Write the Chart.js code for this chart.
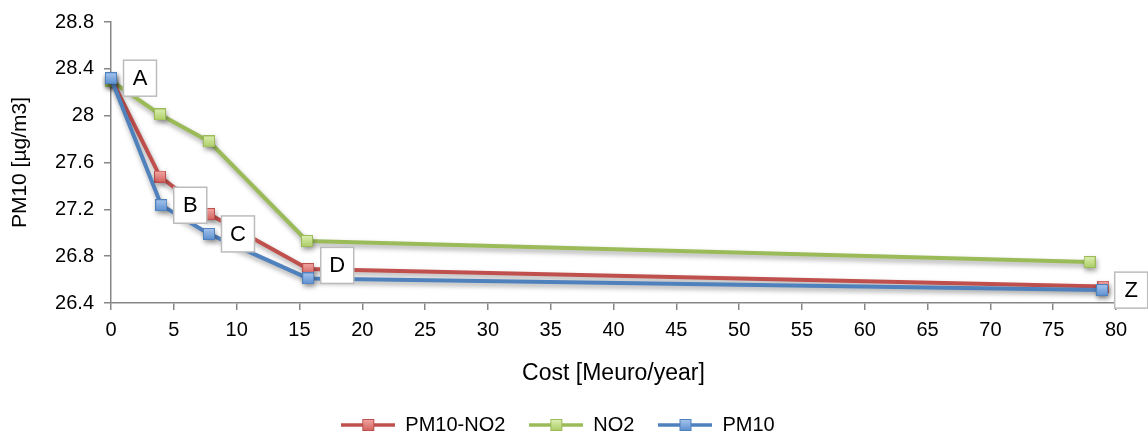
<!DOCTYPE html>
<html>
<head>
<meta charset="utf-8">
<script src="https://cdn.jsdelivr.net/npm/chart.js@4.4.1/dist/chart.umd.min.js"></script>
<style>
  html, body { margin: 0; padding: 0; background: #fff; }
  #wrap { width: 1148px; height: 434px; }
</style>
</head>
<body>
<div id="wrap"><canvas id="chart" width="1148" height="434"></canvas></div>
<script>
// values
const seriesNames = ['PM10-NO2', 'NO2', 'PM10']
const costPM10NO2 = [0, 3.9, 7.8, 15.7, 79.0]
const valPM10NO2 = [28.32, 27.48, 27.16, 26.69, 26.54]
const costNO2 = [0, 3.9, 7.8, 15.6, 77.9]
const valNO2 = [28.30, 28.01, 27.78, 26.93, 26.75]
const costPM10 = [0, 4.0, 7.8, 15.7, 78.9]
const valPM10 = [28.32, 27.235, 26.99, 26.61, 26.51]
const pointLabels = ['A', 'B', 'C', 'D', 'Z']
const xTickMin = 0, xTickMax = 80, xTickStep = 5
const yTickMin = 26.4, yTickMax = 28.8, yTickStep = 0.4

const FONT = 'Liberation Sans, Arial, sans-serif'
const AXIS_GREY = '#878787'

// office-ish colours: line, marker light, marker dark
const colours = [
  { line: '#c0504d', light: '#f2a8a6', dark: '#d2605c' },
  { line: '#9bbb59', light: '#dff0b4', dark: '#a9cc62' },
  { line: '#4f81bd', light: '#a9c6ee', dark: '#5b8ed0' }
]

function toPoints(xs, ys) {
  return xs.map((x, i) => ({ x: x, y: ys[i] }))
}

// square marker with a soft gradient
function makeMarker(c) {
  const cv = document.createElement('canvas')
  cv.width = 12; cv.height = 12
  const g = cv.getContext('2d')
  const grad = g.createLinearGradient(0, 0, 0, 12)
  grad.addColorStop(0, c.light)
  grad.addColorStop(1, c.dark)
  g.fillStyle = grad
  g.fillRect(0.5, 0.5, 11, 11)
  g.strokeStyle = c.line
  g.lineWidth = 1
  g.strokeRect(0.5, 0.5, 11, 11)
  return cv
}

// legend symbol: line with marker in the middle
function makeLegendSymbol(c) {
  const cv = document.createElement('canvas')
  cv.width = 54; cv.height = 12
  const g = cv.getContext('2d')
  g.strokeStyle = c.line
  g.lineWidth = 3.5
  g.beginPath(); g.moveTo(0, 6); g.lineTo(54, 6); g.stroke()
  g.drawImage(makeMarker(c), 21, 0)
  return cv
}

const markers = colours.map(makeMarker)
const legendSymbols = colours.map(makeLegendSymbol)
const seriesData = [
  toPoints(costPM10NO2, valPM10NO2),
  toPoints(costNO2, valNO2),
  toPoints(costPM10, valPM10)
]
// drawing order: PM10 on top, then PM10-NO2, then NO2
const drawOrder = [1, 2, 0]

// soft grey drop shadow under every line
const shadowPlugin = {
  id: 'shadow',
  beforeDatasetDraw(chart) {
    const ctx = chart.ctx
    ctx.save()
    ctx.shadowColor = 'rgba(0,0,0,0.35)'
    ctx.shadowBlur = 5
    ctx.shadowOffsetX = 1
    ctx.shadowOffsetY = 3
  },
  afterDatasetDraw(chart) {
    chart.ctx.restore()
  }
}

// boxed letters next to the PM10 points
const boxLabelPlugin = {
  id: 'boxLabels',
  afterDatasetsDraw(chart) {
    const ctx = chart.ctx
    const meta = chart.getDatasetMeta(2)
    ctx.save()
    ctx.font = '22px ' + FONT
    ctx.textAlign = 'center'
    ctx.textBaseline = 'middle'
    meta.data.forEach((pt, i) => {
      const cx = pt.x + 29
      const cy = pt.y - (i === 3 ? 13 : 0)
      const w = 33, h = 36
      ctx.fillStyle = '#ffffff'
      ctx.fillRect(cx - w / 2, cy - h / 2, w, h)
      ctx.strokeStyle = '#bcbcbc'
      ctx.lineWidth = 1.5
      ctx.strokeRect(cx - w / 2, cy - h / 2, w, h)
      ctx.fillStyle = '#000000'
      ctx.fillText(pointLabels[i], cx, cy + 1)
    })
    ctx.restore()
  }
}

new Chart(document.getElementById('chart'), {
  type: 'line',
  data: {
    datasets: seriesNames.map((name, i) => ({
      label: name,
      data: seriesData[i],
      order: drawOrder[i],
      borderColor: colours[i].line,
      backgroundColor: colours[i].line,
      borderWidth: 4,
      pointStyle: markers[i],
      pointRadius: 6,
      pointHoverRadius: 6,
      tension: 0,
      clip: false
    }))
  },
  options: {
    responsive: false,
    animation: false,
    events: [],
    layout: { padding: { top: 22, right: 32, left: 0, bottom: -11 } },
    scales: {
      x: {
        type: 'linear',
        min: xTickMin,
        max: xTickMax,
        ticks: {
          stepSize: xTickStep,
          color: '#000',
          font: { family: FONT, size: 20 },
          padding: 8
        },
        grid: {
          drawOnChartArea: false,
          drawTicks: true,
          tickLength: 7,
          color: AXIS_GREY,
          lineWidth: 1.5
        },
        border: { color: AXIS_GREY, width: 1.5 },
        title: {
          display: true,
          text: 'Cost [Meuro/year]',
          color: '#000',
          font: { family: FONT, size: 23 },
          padding: { top: 12, bottom: 4 }
        },
        afterFit(scale) { scale.height = 88 }
      },
      y: {
        min: yTickMin,
        max: yTickMax,
        ticks: {
          stepSize: yTickStep,
          color: '#000',
          font: { family: FONT, size: 20 },
          padding: 10,
          callback: v => String(+v.toFixed(1))
        },
        grid: {
          drawOnChartArea: false,
          drawTicks: true,
          tickLength: 7,
          color: AXIS_GREY,
          lineWidth: 1.5
        },
        border: { color: AXIS_GREY, width: 1.5 },
        title: {
          display: true,
          text: 'PM10 [µg/m3]',
          color: '#000',
          font: { family: FONT, size: 21 },
          padding: { top: 8, bottom: 4 }
        },
        afterFit(scale) { scale.width = 111 }
      }
    },
    plugins: {
      tooltip: { enabled: false },
      legend: {
        position: 'bottom',
        labels: {
          usePointStyle: true,
          pointStyleWidth: 54,
          color: '#000',
          font: { family: FONT, size: 20 },
          padding: 24,
          sort: (a, b) => a.datasetIndex - b.datasetIndex,
          generateLabels(chart) {
            const items = Chart.defaults.plugins.legend.labels.generateLabels(chart)
            items.forEach(it => { it.pointStyle = legendSymbols[it.datasetIndex] })
            return items
          }
        }
      }
    }
  },
  plugins: [shadowPlugin, boxLabelPlugin]
})
</script>
</body>
</html>
